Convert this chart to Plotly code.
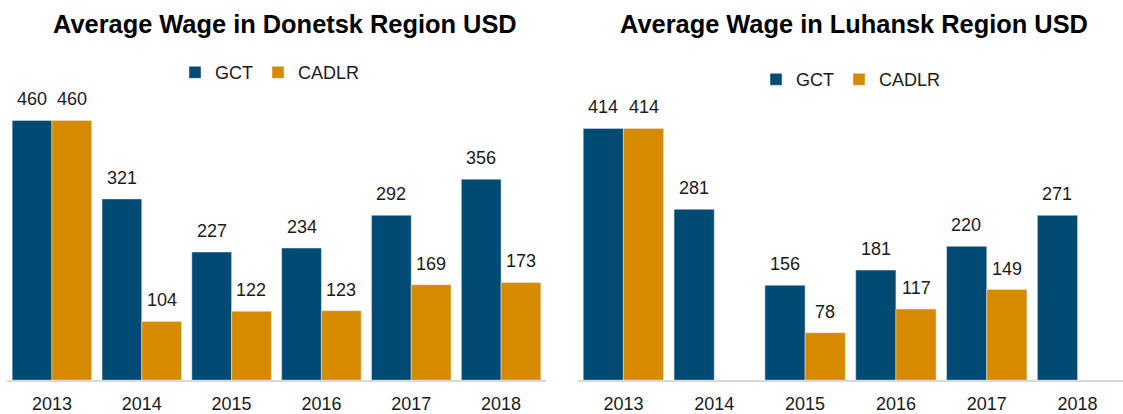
import plotly.graph_objects as go

years = ["2013", "2014", "2015", "2016", "2017", "2018"]
donetsk_gct = [460, 321, 227, 234, 292, 356]
donetsk_cadlr = [460, 104, 122, 123, 169, 173]
luhansk_gct = [414, 281, 156, 181, 220, 271]
luhansk_cadlr = [414, None, 78, 117, 149, None]

titles = ["Average Wage in Donetsk Region USD", "Average Wage in Luhansk Region USD"]
series_names = ["GCT", "CADLR"]

C_GCT = "#004a73"
C_CADLR = "#d68a00"
FONT = "Arial, Liberation Sans, sans-serif"
W, H = 1123, 414

fig = go.Figure()

panels = [
    ("x", "y", "legend", donetsk_gct, donetsk_cadlr),
    ("x2", "y2", "legend2", luhansk_gct, luhansk_cadlr),
]
for xa, ya, lg, gct, cad in panels:
    fig.add_trace(go.Bar(x=years, y=gct, name=series_names[0], marker_color=C_GCT,
                         xaxis=xa, yaxis=ya, legend=lg))
    fig.add_trace(go.Bar(x=years, y=cad, name=series_names[1], marker_color=C_CADLR,
                         xaxis=xa, yaxis=ya, legend=lg))

annotations = []
for (xa, ya, lg, gct, cad), shift in zip(panels, [19.8, 20.3]):
    for vals, xs in ((gct, -shift), (cad, shift)):
        for i, v in enumerate(vals):
            if v is None:
                continue
            annotations.append(dict(x=i, y=v, xref=xa, yref=ya, text=str(v),
                                    showarrow=False, xshift=xs, yshift=21,
                                    yanchor="middle",
                                    font=dict(size=18, color="#1a1a1a", family=FONT)))

for t, cx, cy in zip(titles, [285, 854], [24, 24]):
    annotations.append(dict(text="<b>%s</b>" % t, x=cx / W, y=1 - cy / H, xref="paper", yref="paper",
                            xanchor="center", yanchor="middle", showarrow=False,
                            font=dict(size=25.4, color="#000000", family=FONT)))

ybot = 1 - 382 / H
ytop = 1 - 60 / H
axis_common = dict(showgrid=False, zeroline=False, showticklabels=False, ticks="", fixedrange=True)
xcommon = dict(type="category", showline=True, linecolor="#d9d9d9", linewidth=2, ticks="",
               ticklabelstandoff=6, tickfont=dict(size=18, color="#1a1a1a"), fixedrange=True)
fig.update_layout(
    width=W, height=H,
    margin=dict(l=0, r=0, t=0, b=0),
    paper_bgcolor="white", plot_bgcolor="white",
    barmode="group", bargap=0.115, bargroupgap=0,
    font=dict(family=FONT, size=18, color="#1a1a1a"),
    xaxis=dict(domain=[7 / W, 546 / W], anchor="y", **xcommon),
    xaxis2=dict(domain=[578 / W, 1.0], anchor="y2", **xcommon),
    yaxis=dict(domain=[ybot, ytop], range=[0, 460 * 322 / 261], anchor="x", **axis_common),
    yaxis2=dict(domain=[ybot, ytop], range=[0, 414 * 322 / 253], anchor="x2", **axis_common),
    legend=dict(orientation="h", x=270 / W, y=1 - 73 / H, xanchor="center", yanchor="middle",
                font=dict(size=18, color="#1a1a1a"), itemwidth=30, bgcolor="rgba(0,0,0,0)"),
    legend2=dict(orientation="h", x=851 / W, y=1 - 80 / H, xanchor="center", yanchor="middle",
                 font=dict(size=18, color="#1a1a1a"), itemwidth=30, bgcolor="rgba(0,0,0,0)"),
    annotations=annotations,
    showlegend=True,
)

fig.write_html("out.html", config={"displayModeBar": False},
               post_script="document.body.style.margin='0';document.body.style.padding='0';")
